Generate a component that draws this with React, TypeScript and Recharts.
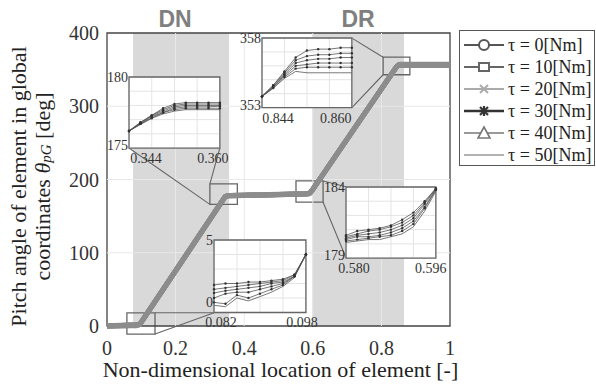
import React from "react";
import {
  LineChart,
  Line,
  XAxis,
  YAxis,
  CartesianGrid,
  ReferenceArea,
  ReferenceLine,
} from "recharts";

// series
const seriesNames = ["τ = 0[Nm]", "τ = 10[Nm]", "τ = 20[Nm]", "τ = 30[Nm]", "τ = 40[Nm]", "τ = 50[Nm]"];
const seriesKeys = ["t0", "t10", "t20", "t30", "t40", "t50"];

// main axes
const xTicks = [0, 0.2, 0.4, 0.6, 0.8, 1];
const yTicks = [0, 100, 200, 300, 400];

// lead-in before DN rise
const leadX = [0, 0.04, 0.07];
const leadVals = [
  [0.2, 0.9, 1.6],
  [0.2, 0.8, 1.4],
  [0.1, 0.6, 1.1],
  [0.1, 0.5, 0.8],
  [0.0, 0.3, 0.6],
  [0.0, 0.2, 0.4],
];

// start of DN rise (zoom 0.082 - 0.098)
const dnRiseX = [0.082, 0.084, 0.086, 0.088, 0.09, 0.092, 0.094, 0.096, 0.098];
const dnRiseVals = [
  [1.9, 2.0, 2.0, 2.1, 2.1, 2.2, 2.3, 2.6, 4.0],
  [1.6, 1.7, 1.8, 1.9, 2.0, 2.1, 2.2, 2.6, 4.0],
  [1.35, 1.5, 1.6, 1.7, 1.8, 2.0, 2.1, 2.5, 4.0],
  [1.0, 1.3, 1.4, 1.4, 1.6, 1.8, 2.0, 2.5, 4.0],
  [0.7, 0.6, 1.2, 1.0, 1.3, 1.6, 1.9, 2.5, 4.0],
  [0.5, 0.4, 1.0, 0.8, 1.1, 1.4, 1.8, 2.4, 4.0],
];

// end of DN rise (zoom 0.344 - 0.360)
const dnTopX = [0.344, 0.346, 0.348, 0.35, 0.352, 0.354, 0.356, 0.358, 0.36];
const dnTopVals = [
  [176.2, 176.8, 177.3, 177.8, 178.1, 178.2, 178.2, 178.2, 178.2],
  [176.2, 176.8, 177.3, 177.7, 178.0, 178.1, 178.1, 178.1, 178.1],
  [176.2, 176.75, 177.25, 177.6, 177.9, 178.0, 178.0, 178.0, 178.0],
  [176.2, 176.7, 177.2, 177.5, 177.8, 177.9, 177.9, 177.9, 177.95],
  [176.2, 176.7, 177.1, 177.5, 177.7, 177.8, 177.8, 177.8, 177.8],
  [176.2, 176.65, 177.1, 177.4, 177.6, 177.7, 177.7, 177.7, 177.7],
];

// flat part between DN and DR
const midX = [0.47];
const midVals = [[179.4], [179.3], [179.2], [179.1], [179.0], [178.9]];

// start of DR rise (zoom 0.580 - 0.596)
const drRiseX = [0.58, 0.582, 0.584, 0.586, 0.588, 0.59, 0.592, 0.594, 0.596];
const drRiseVals = [
  [180.6, 180.9, 181.0, 181.1, 181.3, 181.7, 182.2, 183.0, 183.9],
  [180.5, 180.7, 180.9, 181.0, 181.2, 181.5, 182.0, 182.9, 183.9],
  [180.4, 180.6, 180.7, 180.8, 181.0, 181.3, 181.8, 182.8, 183.85],
  [180.3, 180.5, 180.5, 180.6, 180.8, 181.1, 181.6, 182.6, 183.8],
  [180.2, 180.3, 180.4, 180.5, 180.6, 180.9, 181.4, 182.5, 183.8],
  [180.1, 180.2, 180.3, 180.3, 180.5, 180.7, 181.2, 182.3, 183.7],
];

// end of DR rise (zoom 0.844 - 0.860)
const drTopX = [0.844, 0.846, 0.848, 0.85, 0.852, 0.854, 0.856, 0.858, 0.86];
const drTopVals = [
  [353.8, 354.6, 355.6, 356.6, 357.1, 357.2, 357.2, 357.3, 357.3],
  [353.8, 354.6, 355.5, 356.4, 356.7, 356.8, 356.8, 356.9, 356.9],
  [353.8, 354.5, 355.4, 356.2, 356.4, 356.5, 356.5, 356.6, 356.6],
  [353.8, 354.5, 355.3, 356.0, 356.1, 356.2, 356.2, 356.2, 356.2],
  [353.8, 354.4, 355.2, 355.8, 355.9, 355.9, 355.9, 355.9, 355.9],
  [353.8, 354.4, 355.1, 355.6, 355.5, 355.5, 355.5, 355.5, 355.5],
];

// tail
const tailX = [0.93, 1.0];
const tailVals = [
  [357.4, 357.5],
  [357.0, 357.1],
  [356.7, 356.8],
  [356.3, 356.4],
  [356.0, 356.1],
  [355.6, 355.7],
];

const toRows = (xs: number[], vals: number[][]) =>
  xs.map((x, i) => {
    const r: any = { x };
    seriesKeys.forEach((k, s) => (r[k] = vals[s][i]));
    return r;
  });

const mainRows = [
  [leadX, leadVals],
  [dnRiseX, dnRiseVals],
  [dnTopX, dnTopVals],
  [midX, midVals],
  [drRiseX, drRiseVals],
  [drTopX, drTopVals],
  [tailX, tailVals],
].flatMap(([xs, vals]) => toRows(xs as number[], vals as number[][]));

// plot area of the main chart (pixels)
const PLOT = { left: 107, top: 33, width: 343, height: 293 };
const px = (x: number) => PLOT.left + x * PLOT.width;
const py = (y: number) => PLOT.top + ((400 - y) / 400) * PLOT.height;

const GRAY_LINE = "#666";

// inset placement, in main data coordinates
const insets = [
  {
    key: "dnTop",
    xs: dnTopX,
    vals: dnTopVals,
    yRange: [175, 180],
    box: { x1: 0.064, x2: 0.329, y1: 243, y2: 340 },
    zoom: { x1: 0.3, x2: 0.38, y1: 166, y2: 194 },
    links: [
      [{ x: 0.064, y: 243 }, { x: 0.3, y: 166 }],
      [{ x: 0.329, y: 243 }, { x: 0.3, y: 194 }],
    ],
    tickDx: [17, -7],
    loDy: -3,
  },
  {
    key: "drTop",
    xs: drTopX,
    vals: drTopVals,
    yRange: [353, 358],
    box: { x1: 0.452, x2: 0.714, y1: 298, y2: 393 },
    zoom: { x1: 0.805, x2: 0.883, y1: 343, y2: 367 },
    links: [
      [{ x: 0.714, y: 393 }, { x: 0.805, y: 367 }],
      [{ x: 0.714, y: 298 }, { x: 0.805, y: 343 }],
    ],
    tickDx: [16, -16],
    loDy: -3,
  },
  {
    key: "drRise",
    xs: drRiseX,
    vals: drRiseVals,
    yRange: [179, 184],
    box: { x1: 0.697, x2: 0.959, y1: 93, y2: 190 },
    zoom: { x1: 0.551, x2: 0.63, y1: 169, y2: 198 },
    links: [
      [{ x: 0.63, y: 198 }, { x: 0.697, y: 190 }],
      [{ x: 0.63, y: 169 }, { x: 0.697, y: 93 }],
    ],
    tickDx: [8, -5],
    loDy: -3,
  },
  {
    key: "dnRise",
    xs: dnRiseX,
    vals: dnRiseVals,
    yRange: [0, 5],
    box: { x1: 0.312, x2: 0.58, y1: 18, y2: 117 },
    zoom: { x1: 0.058, x2: 0.14, y1: -11, y2: 18 },
    links: [
      [{ x: 0.14, y: 18 }, { x: 0.312, y: 18 }],
      [{ x: 0.14, y: -11 }, { x: 0.312, y: 18 }],
    ],
    tickDx: [7, -4],
    loDy: -10,
  },
];

const legendStyles = [
  { color: "#555", marker: "circle", w: 2 },
  { color: "#666", marker: "square", w: 2 },
  { color: "#aaa", marker: "x", w: 2 },
  { color: "#333", marker: "star", w: 2.5 },
  { color: "#777", marker: "triangle", w: 1.6 },
  { color: "#999", marker: "none", w: 1.6 },
];

const LegendMarker = ({ marker, color }: { marker: string; color: string }) => {
  const cx = 22;
  const cy = 8;
  switch (marker) {
    case "circle":
      return <circle cx={cx} cy={cy} r={5} fill="white" stroke={color} strokeWidth={2} />;
    case "square":
      return <rect x={cx - 5} y={cy - 4} width={10} height={8} fill="white" stroke={color} strokeWidth={2} />;
    case "x":
      return (
        <g stroke={color} strokeWidth={2}>
          <line x1={cx - 4} y1={cy - 4} x2={cx + 4} y2={cy + 4} />
          <line x1={cx - 4} y1={cy + 4} x2={cx + 4} y2={cy - 4} />
        </g>
      );
    case "star":
      return (
        <g stroke={color} strokeWidth={2.2}>
          <line x1={cx - 5} y1={cy} x2={cx + 5} y2={cy} />
          <line x1={cx} y1={cy - 5} x2={cx} y2={cy + 5} />
          <line x1={cx - 4} y1={cy - 4} x2={cx + 4} y2={cy + 4} />
          <line x1={cx - 4} y1={cy + 4} x2={cx + 4} y2={cy - 4} />
        </g>
      );
    case "triangle":
      return <polygon points={`${cx},${cy - 6} ${cx - 6},${cy + 5} ${cx + 6},${cy + 5}`} fill="white" stroke={color} strokeWidth={1.6} />;
    default:
      return null;
  }
};

const InsetXTick = (props: any) => {
  const { x, y, payload, index, visibleTicksCount, tickDx } = props;
  const last = visibleTicksCount - 1;
  if (index !== 0 && index !== last) return null;
  const dx = index === 0 ? tickDx[0] : tickDx[1];
  return (
    <text x={x + dx} y={y + 1} dy="0.71em" textAnchor="middle" fontSize={14} fill="#333">
      {Number(payload.value).toFixed(3)}
    </text>
  );
};

const InsetYTick = (props: any) => {
  const { x, y, payload, lo, hi, loDy } = props;
  const v = payload.value;
  if (v !== lo && v !== hi) return null;
  return (
    <text x={x} y={v === lo ? y + loDy : y} dy="0.355em" textAnchor="end" fontSize={14} fill="#333">
      {String(v)}
    </text>
  );
};

const Inset = ({ inset }: { inset: any }) => {
  const L = 40;
  const R = 24;
  const T = 8;
  const B = 22;
  const boxL = px(inset.box.x1);
  const boxT = py(inset.box.y2);
  const boxW = px(inset.box.x2) - boxL;
  const boxH = py(inset.box.y1) - boxT;
  const rows = toRows(inset.xs, inset.vals);
  const [lo, hi] = inset.yRange;
  const xs = inset.xs;
  const xDom = [xs[0], xs[xs.length - 1]];
  const xGrid = [0, 2, 4, 6, 8].map((i) => xs[i]);
  const yGrid = [0, 1, 2, 3, 4, 5].map((i) => lo + i);
  return (
    <div style={{ position: "absolute", left: boxL - L, top: boxT - T }}>
      <LineChart width={boxW + L + R} height={boxH + T + B} data={rows} margin={{ top: T, right: R, bottom: 0, left: 0 }}>
        <CartesianGrid stroke="#e4e4e4" fill="#fff" fillOpacity={1} />
        <XAxis
          dataKey="x"
          type="number"
          domain={xDom}
          ticks={xGrid}
          height={B}
          axisLine={false}
          tickLine={false}
          tickSize={0}
          tickMargin={4}
          interval={0}
          tick={<InsetXTick tickDx={inset.tickDx} />}
        />
        <YAxis
          type="number"
          domain={[lo, hi]}
          ticks={yGrid}
          width={L}
          axisLine={false}
          tickLine={false}
          tickSize={0}
          tickMargin={1}
          interval={0}
          tick={<InsetYTick lo={lo} hi={hi} loDy={inset.loDy} />}
        />
        {seriesKeys.map((k, s) => (
          <Line
            key={k}
            dataKey={k}
            stroke="#555"
            strokeWidth={0.8}
            dot={s < 5 ? { r: 1.2, fill: "#333", stroke: "none" } : false}
            isAnimationActive={false}
          />
        ))}
        <ReferenceArea x1={xDom[0]} x2={xDom[1]} y1={lo} y2={hi} fill="none" stroke={GRAY_LINE} strokeWidth={1.3} />
      </LineChart>
    </div>
  );
};

const YLabel = (props: any) => {
  const vb = props.viewBox || { x: 60, y: 33, height: 293 };
  const cy = vb.y + vb.height / 2 + 7;
  const x1 = vb.x - 42;
  const x2 = vb.x - 18;
  return (
    <g fill="#222" fontSize={22}>
      <text x={x1} y={cy} textAnchor="middle" dominantBaseline="central" transform={`rotate(-90, ${x1}, ${cy})`}>
        Pitch angle of element in global
      </text>
      <text x={x2} y={cy} textAnchor="middle" dominantBaseline="central" transform={`rotate(-90, ${x2}, ${cy})`}>
        coordinates <tspan fontStyle="italic">θ</tspan>
        <tspan fontStyle="italic" fontSize={15} dy={4}>pG</tspan>
        <tspan dy={-4}> [deg]</tspan>
      </text>
    </g>
  );
};

const XLabel = (props: any) => {
  const vb = props.viewBox || { x: 107, y: 326, width: 343 };
  return (
    <text x={vb.x + vb.width / 2 + 2} y={vb.y + 51} textAnchor="middle" fontSize={22} fill="#222">
      Non-dimensional location of element [-]
    </text>
  );
};

const bandLabel = (text: string, dx: number) => (props: any) => {
  const vb = props.viewBox;
  return (
    <text
      x={vb.x + vb.width / 2 + dx}
      y={vb.y - 6}
      textAnchor="middle"
      fontSize={23}
      fontWeight="bold"
      fontFamily='"Liberation Sans", Arial, sans-serif'
      fill="#7f7f7f"
    >
      {text}
    </text>
  );
};

export default function App() {
  return (
    <div
      style={{
        position: "absolute",
        left: 0,
        top: 0,
        width: 596,
        height: 388,
        background: "#fff",
        fontFamily: '"Liberation Serif", "Times New Roman", serif',
      }}
    >
      <LineChart width={596} height={388} data={mainRows} margin={{ top: 33, right: 146, bottom: 30, left: 60 }}>
        <XAxis
          dataKey="x"
          type="number"
          domain={[0, 1]}
          ticks={xTicks}
          height={32}
          axisLine={false}
          tickLine={false}
          tickMargin={9}
          tick={{ fontSize: 20, fill: "#333" }}
          tickFormatter={(v: number) => String(v)}
          label={<XLabel />}
        />
        <YAxis
          type="number"
          domain={[0, 400]}
          ticks={yTicks}
          width={47}
          axisLine={false}
          tickLine={false}
          tick={{ fontSize: 20, fill: "#333" }}
          label={<YLabel />}
        />
        <ReferenceArea x1={0.076} x2={0.356} y1={0} y2={400} fill="#d9d9d9" fillOpacity={1} stroke="none" label={bandLabel("DN", -6)} />
        <ReferenceArea x1={0.598} x2={0.866} y1={0} y2={400} fill="#d9d9d9" fillOpacity={1} stroke="none" label={bandLabel("DR", 0)} />
        {xTicks.slice(1, -1).map((v) => (
          <ReferenceLine key={`gx${v}`} x={v} stroke="#e8e8e8" strokeWidth={1} />
        ))}
        {yTicks.slice(1, -1).map((v) => (
          <ReferenceLine key={`gy${v}`} y={v} stroke="#e8e8e8" strokeWidth={1} />
        ))}
        {seriesKeys.map((k) => (
          <Line key={k} dataKey={k} stroke="#8c8c8c" strokeWidth={5} dot={false} isAnimationActive={false} />
        ))}
        {insets.map((ins) => (
          <ReferenceArea
            key={`z-${ins.key}`}
            x1={ins.zoom.x1}
            x2={ins.zoom.x2}
            y1={ins.zoom.y1}
            y2={ins.zoom.y2}
            fill="none"
            stroke={GRAY_LINE}
            strokeWidth={1.3}
            ifOverflow="visible"
          />
        ))}
        {insets.flatMap((ins) =>
          ins.links.map((seg, i) => (
            <ReferenceLine key={`l-${ins.key}-${i}`} segment={seg} stroke={GRAY_LINE} strokeWidth={1.1} ifOverflow="visible" />
          ))
        )}
        <ReferenceArea x1={0} x2={1} y1={0} y2={400} fill="none" stroke="#444" strokeWidth={1.3} />
      </LineChart>

      {insets.map((ins) => (
        <Inset key={ins.key} inset={ins} />
      ))}

      <div
        style={{
          position: "absolute",
          left: 459,
          top: 30,
          width: 136,
          height: 136,
          boxSizing: "border-box",
          border: "1px solid #555",
          background: "#fff",
          padding: "3px 0 0 2px",
          fontSize: 18,
          color: "#222",
        }}
      >
        {seriesNames.map((name, i) => (
          <div key={name} style={{ display: "flex", alignItems: "center", height: 22 }}>
            <svg width={44} height={16} style={{ flex: "none" }}>
              <line x1={2} y1={8} x2={42} y2={8} stroke={legendStyles[i].color} strokeWidth={legendStyles[i].w} />
              <LegendMarker marker={legendStyles[i].marker} color={legendStyles[i].color} />
            </svg>
            <span style={{ marginLeft: 2, whiteSpace: "nowrap" }}>{name}</span>
          </div>
        ))}
      </div>
    </div>
  );
}
